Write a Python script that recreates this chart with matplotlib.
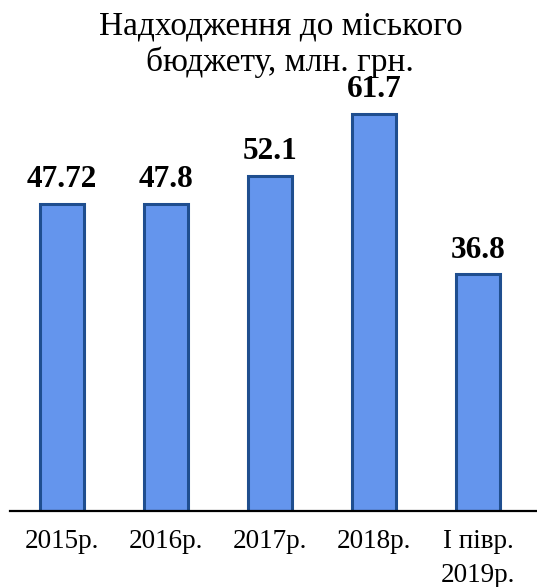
import matplotlib
matplotlib.use("Agg")
import matplotlib.pyplot as plt

categories = ["2015р.", "2016р.", "2017р.", "2018р.", "I півр.\n2019р."]
values = [47.72, 47.8, 52.1, 61.7, 36.8]
title = "Надходження до міського\nбюджету, млн. грн."

FILL, EDGE = "#6495ED", "#1F4E8F"

plt.rcParams.update({"font.family": ["Liberation Serif", "DejaVu Serif"]})

fig = plt.figure(figsize=(5.37, 5.87), dpi=100)
ax = fig.add_axes([10 / 537, 76 / 587, 1 - 10 / 537, 411 / 587])

x = range(len(categories))
bars = ax.bar(x, values, width=0.42, color=FILL, edgecolor=EDGE, linewidth=2.2)
ax.bar_label(bars, fmt="%g", padding=7, fontsize=22.5, fontweight="bold")

ax.set_xlim(-0.5, 4.5 + 7 / 104)
ax.set_ylim(0, 63.9)
ax.set_xticks(list(x))
ax.set_xticklabels(categories, fontsize=19.5, linespacing=1.45)
ax.tick_params(axis="x", length=0, pad=13)
ax.set_yticks([])
for s in ("top", "right", "left"):
    ax.spines[s].set_visible(False)
ax.spines["bottom"].set_linewidth(1.6)
ax.patch.set_alpha(0)

fig.text(0.522, 1 - 11 / 587, title, ha="center", va="top", fontsize=24,
         linespacing=1.2)

fig.savefig("out.png", dpi=100)
